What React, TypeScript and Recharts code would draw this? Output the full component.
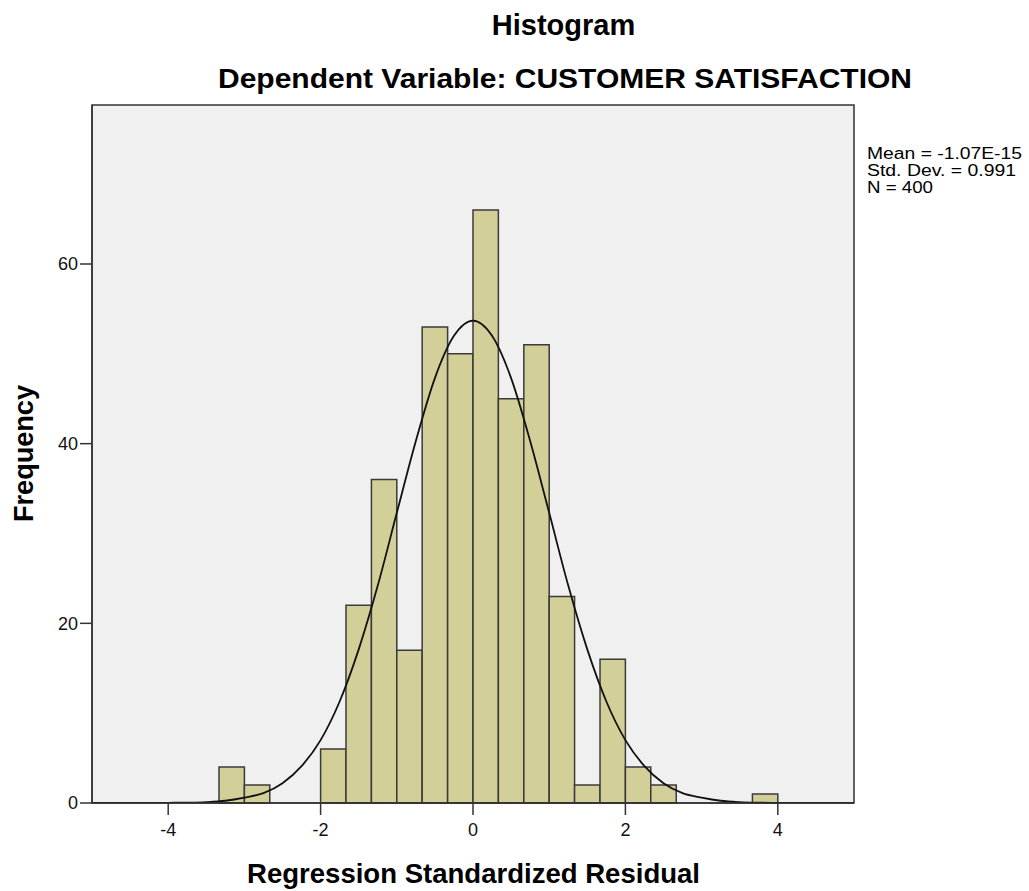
import React from "react";
import {
  ComposedChart,
  Line,
  XAxis,
  YAxis,
  CartesianGrid,
  ReferenceArea,
} from "recharts";

// histogram bins (bin width 1/3), counts
const binLow = [-3.333, -3, -2, -1.667, -1.333, -1, -0.667, -0.333, 0, 0.333, 0.667, 1, 1.333, 1.667, 2, 2.333, 3.667];
const binHigh = [-3, -2.667, -1.667, -1.333, -1, -0.667, -0.333, 0, 0.333, 0.667, 1, 1.333, 1.667, 2, 2.333, 2.667, 4];
const binCounts = [4, 2, 6, 22, 36, 17, 53, 50, 66, 45, 51, 23, 2, 16, 4, 2, 1];

// normal curve
const curveX = [-5, -4.75, -4.5, -4.25, -4, -3.75, -3.5, -3.25, -3, -2.75, -2.5, -2.25, -2, -1.75, -1.5, -1.25, -1, -0.75, -0.5, -0.25, 0, 0.25, 0.5, 0.75, 1, 1.25, 1.5, 1.75, 2, 2.25, 2.5, 2.75, 3, 3.25, 3.5, 3.75, 4, 4.25, 4.5, 4.75, 5];
const curveY = [0, 0, 0, 0, 0.02, 0.04, 0.1, 0.25, 0.6, 1.1, 2.2, 4.1, 7, 11.3, 17.1, 24.2, 32.3, 40.3, 47.3, 52, 53.7, 52, 47.3, 40.3, 32.3, 24.2, 17.1, 11.3, 7, 4.1, 2.2, 1.1, 0.6, 0.25, 0.1, 0.04, 0.02, 0, 0, 0, 0];

const xTicks = [-4, -2, 0, 2, 4];
const yTicks = [0, 20, 40, 60];
const statLines = ["Mean = -1.07E-15", "Std. Dev. = 0.991", "N = 400"];
const statWidths = [155, 149, 66];

const curveData = curveX.map((x, i) => ({ x, y: curveY[i] }));

const font = "'Liberation Sans', Arial, sans-serif";
const tickStyle = { fill: "#111", fontSize: 18, fontFamily: font };

export default function App() {
  return (
    <div style={{ position: "absolute", left: 0, top: 0, width: 1029, height: 891, background: "#fff" }}>
      <ComposedChart
        width={1029}
        height={891}
        data={curveData}
        margin={{ top: 105, right: 175, bottom: 58, left: 52 }}
      >
        <CartesianGrid fill="#f0f0f0" horizontal={false} vertical={false} />
        <XAxis
          dataKey="x"
          type="number"
          domain={[-5, 5]}
          ticks={xTicks}
          allowDataOverflow
          height={30}
          tickSize={12}
          tickMargin={8}
          stroke="#333"
          strokeWidth={1.5}
          tick={tickStyle}
        />
        <YAxis
          type="number"
          domain={[0, 77.7]}
          ticks={yTicks}
          allowDataOverflow
          width={40}
          tickSize={12}
          tickMargin={2}
          stroke="#333"
          strokeWidth={1.5}
          tick={tickStyle}
        />
        {binLow.map((lo, i) => (
          <ReferenceArea
            key={i}
            x1={lo}
            x2={binHigh[i]}
            y1={0}
            y2={binCounts[i]}
            fill="#d3cf98"
            fillOpacity={1}
            stroke="#3a3a3a"
            strokeWidth={1.5}
          />
        ))}
        <ReferenceArea x1={-5} x2={5} y1={0} y2={77.7} fill="none" stroke="#333" strokeWidth={1.5} />
        <Line
          dataKey="y"
          type="monotone"
          stroke="#111"
          strokeWidth={1.8}
          dot={false}
          isAnimationActive={false}
        />
      </ComposedChart>
      <svg
        width={1029}
        height={891}
        style={{ position: "absolute", left: 0, top: 0, pointerEvents: "none" }}
        fontFamily={font}
      >
        <text x={563.5} y={35} textAnchor="middle" fontSize={29} fontWeight="bold" fill="#000">
          Histogram
        </text>
        <text x={565} y={88} textAnchor="middle" fontSize={28} fontWeight="bold" fill="#000" textLength={694} lengthAdjust="spacingAndGlyphs">
          Dependent Variable: CUSTOMER SATISFACTION
        </text>
        <text x={473.5} y={883} textAnchor="middle" fontSize={28} fontWeight="bold" fill="#000" textLength={453} lengthAdjust="spacingAndGlyphs">
          Regression Standardized Residual
        </text>
        <text transform="translate(33,453.5) rotate(-90)" textAnchor="middle" fontSize={28} fontWeight="bold" fill="#000" textLength={137} lengthAdjust="spacingAndGlyphs">
          Frequency
        </text>
        {statLines.map((s, i) => (
          <text key={s} x={867} y={159 + i * 17} fontSize={16} fill="#000" textLength={statWidths[i]} lengthAdjust="spacingAndGlyphs">
            {s}
          </text>
        ))}
      </svg>
    </div>
  );
}
